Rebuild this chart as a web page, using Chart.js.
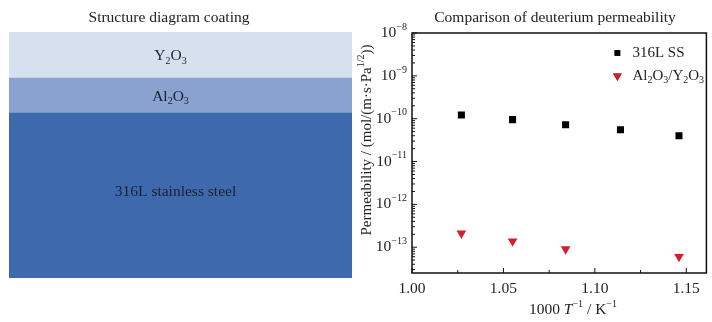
<!DOCTYPE html>
<html>
<head>
<meta charset="utf-8">
<script src="https://cdn.jsdelivr.net/npm/chart.js@4.4.1/dist/chart.umd.min.js"></script>
<style>
    html, body { margin: 0; padding: 0; background: #fff; }
    #wrap { position: relative; width: 712px; height: 322px; }
    .box { position: absolute; top: 0; width: 356px; height: 322px; }
</style>
</head>
<body>
<div id="wrap">
    <div class="box" style="left:0"><canvas id="layers"></canvas></div>
    <div class="box" style="left:356px"><canvas id="perm"></canvas></div>
</div>
<script>
// Left panel: coating layers (bottom to top)
const layerNames = ['316L stainless steel', 'Al2O3', 'Y2O3'];
const layerThickness = [165, 35, 46];
const layerColors = ['#3e6aad', '#8aa2cf', '#d7e0ef'];

// Right panel: permeability
const ssX = [1.027, 1.055, 1.084, 1.114, 1.146];
const ssY = [1.22e-10, 0.95e-10, 0.72e-10, 0.55e-10, 0.40e-10];
const coatX = [1.027, 1.055, 1.084, 1.146];
const coatY = [2.1e-13, 1.38e-13, 0.9e-13, 0.6e-13];

const seriesNames = ['316L SS', 'Al2O3/Y2O3'];
const xTicks = [1.00, 1.05, 1.10, 1.15];
const xMinorTicks = [1.025, 1.075, 1.125];
const yTickExps = [-8, -9, -10, -11, -12, -13];

const FONT = '"Liberation Serif", "Times New Roman", serif';
const FS = 15.5;

// turn "Al2O3" into segments with subscripts (only for formulas, no spaces)
function formula(name) {
    if (name.includes(' ')) return [{ t: name }];
    const segs = [];
    for (const ch of name) {
        const sub = /[0-9]/.test(ch);
        const last = segs[segs.length - 1];
        if (last && !!last.sub === sub) last.t += ch;
        else segs.push({ t: ch, sub: sub });
    }
    return segs;
}

function fontFor(s, size) {
    const sz = (s.sup || s.sub) ? Math.round(size * 0.66) : size;
    return (s.it ? 'italic ' : '') + sz + 'px ' + FONT;
}

function drawRich(ctx, segs, x, y, align, size) {
    let w = 0;
    segs.forEach(s => { ctx.font = fontFor(s, size); s.w = ctx.measureText(s.t).width; w += s.w; });
    let cx = align === 'center' ? x - w / 2 : align === 'right' ? x - w : x;
    ctx.textAlign = 'left';
    ctx.textBaseline = 'middle';
    segs.forEach(s => {
        ctx.font = fontFor(s, size);
        const dy = s.sup ? -size * 0.38 : s.sub ? size * 0.32 : 0;
        ctx.fillText(s.t, cx, y + dy);
        cx += s.w;
    });
}

// ---------- left chart ----------
const layerLabels = {
    id: 'layerLabels',
    afterDatasetsDraw(chart) {
        const ctx = chart.ctx;
        ctx.save();
        ctx.fillStyle = '#1b1f2e';
        chart.data.datasets.forEach((ds, i) => {
            const bar = chart.getDatasetMeta(i).data[0];
            const cy = (bar.y + bar.base) / 2 + (i === 0 ? -4 : 1);
            const cx = i === 0 ? bar.x - 5 : bar.x - 10;
            drawRich(ctx, formula(layerNames[i]), cx, cy, 'center', FS);
        });
        ctx.fillStyle = '#222';
        drawRich(ctx, [{ t: 'Structure diagram coating' }], 169, 18, 'center', FS);
        ctx.restore();
    }
};

new Chart(document.getElementById('layers'), {
    type: 'bar',
    data: {
        labels: [''],
        datasets: layerNames.map((n, i) => ({
            label: n,
            data: [layerThickness[i]],
            backgroundColor: layerColors[i],
            borderWidth: 0,
            barPercentage: 1,
            categoryPercentage: 1
        }))
    },
    options: {
        responsive: true,
        maintainAspectRatio: false,
        animation: false,
        layout: { padding: { left: 9, right: 4, top: 32, bottom: 44 } },
        plugins: { legend: { display: false }, tooltip: { enabled: false } },
        scales: {
            x: { stacked: true, display: false },
            y: { stacked: true, display: false, min: 0, max: layerThickness.reduce((a, b) => a + b, 0) }
        }
    },
    plugins: [layerLabels]
});

// ---------- right chart ----------
const permDecor = {
    id: 'permDecor',
    afterDraw(chart) {
        const ctx = chart.ctx;
        const a = chart.chartArea;
        const xs = chart.scales.x, ys = chart.scales.y;
        ctx.save();
        ctx.strokeStyle = '#111';
        ctx.fillStyle = '#111';
        ctx.lineWidth = 1.5;
        ctx.strokeRect(a.left, a.top, a.right - a.left, a.bottom - a.top);

        // y ticks (inward)
        ctx.lineWidth = 1;
        ctx.beginPath();
        for (let e = -14; e <= -8; e++) {
            for (let k = 1; k <= 9; k++) {
                const v = k * Math.pow(10, e);
                if (v < ys.min || v > ys.max) continue;
                const py = ys.getPixelForValue(v);
                const len = k === 1 ? 5 : 3;
                ctx.moveTo(a.left, py);
                ctx.lineTo(a.left + len, py);
            }
        }
        // x ticks (inward)
        xTicks.forEach(v => { const px = xs.getPixelForValue(v); ctx.moveTo(px, a.bottom); ctx.lineTo(px, a.bottom - 5); });
        xMinorTicks.forEach(v => { const px = xs.getPixelForValue(v); ctx.moveTo(px, a.bottom); ctx.lineTo(px, a.bottom - 3); });
        ctx.stroke();

        // tick labels
        ctx.fillStyle = '#222';
        yTickExps.forEach(e => {
            const py = ys.getPixelForValue(Math.pow(10, e));
            drawRich(ctx, [{ t: '10' }, { t: '\u2212' + Math.abs(e), sup: true }], a.left - 5, py, 'right', FS);
        });
        xTicks.forEach(v => {
            drawRich(ctx, [{ t: v.toFixed(2) }], xs.getPixelForValue(v), a.bottom + 16, 'center', FS);
        });

        // axis titles
        drawRich(ctx, [{ t: '1000 ' }, { t: 'T', it: true }, { t: '\u22121', sup: true }, { t: ' / K' }, { t: '\u22121', sup: true }],
            217, 310, 'center', FS);
        ctx.save();
        ctx.translate(11, 140);
        ctx.rotate(-Math.PI / 2);
        drawRich(ctx, [{ t: 'Permeability / (mol/(m\u00b7s\u00b7Pa' }, { t: '1/2', sup: true }, { t: '))' }], 0, 0, 'center', 15);
        ctx.restore();

        // title
        drawRich(ctx, [{ t: 'Comparison of deuterium permeability' }], 199, 18, 'center', FS);

        // legend
        const lx = a.right - 89;
        const rows = [a.top + 20, a.top + 43];
        chart.data.datasets.forEach((ds, i) => {
            Chart.helpers.drawPoint(ctx, {
                pointStyle: ds.pointStyle, radius: i === 0 ? 4 : 5, rotation: ds.rotation || 0, borderWidth: 0
            }, lx, rows[i]);
            ctx.fillStyle = ds.backgroundColor;
            ctx.fill();
            ctx.fillStyle = '#222';
            drawRich(ctx, formula(seriesNames[i]).length > 1 ? formula(seriesNames[i]) : [{ t: seriesNames[i] }], lx + 15, rows[i], 'left', 15);
        });
        ctx.restore();
    }
};

function toPoints(xv, yv) {
    return xv.map((x, i) => ({ x: x, y: yv[i] }));
}

new Chart(document.getElementById('perm'), {
    type: 'scatter',
    data: {
        datasets: [
            {
                label: seriesNames[0],
                data: toPoints(ssX, ssY),
                pointStyle: 'rect',
                pointRadius: 5,
                backgroundColor: '#000',
                borderColor: '#000',
                borderWidth: 0
            },
            {
                label: seriesNames[1],
                data: toPoints(coatX, coatY),
                pointStyle: 'triangle',
                rotation: 180,
                pointRadius: 5.6,
                backgroundColor: '#d21f2b',
                borderColor: '#d21f2b',
                borderWidth: 0
            }
        ]
    },
    options: {
        responsive: true,
        maintainAspectRatio: false,
        animation: false,
        layout: { padding: { left: 56, right: 3, top: 33, bottom: 49 } },
        plugins: { legend: { display: false }, tooltip: { enabled: false } },
        scales: {
            x: { type: 'linear', min: 1.0, max: 1.161, display: false },
            y: { type: 'logarithmic', min: 2.5e-14, max: 1e-8, display: false }
        }
    },
    plugins: [permDecor]
});
</script>
</body>
</html>
